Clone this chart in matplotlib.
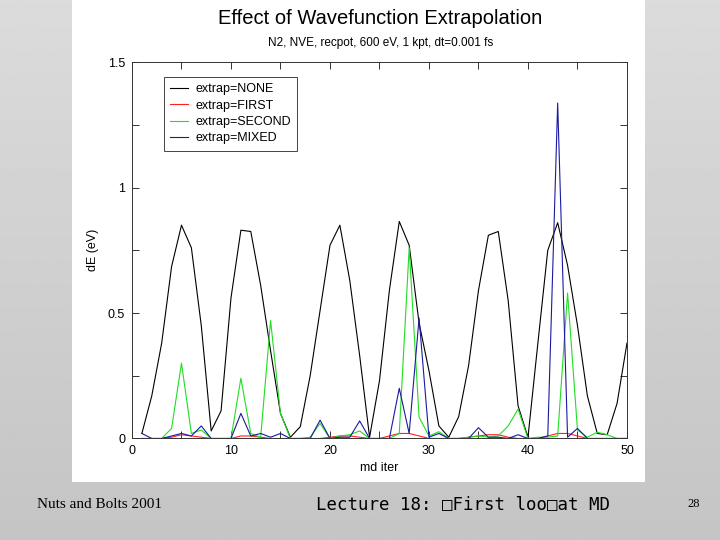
import numpy as np
import matplotlib
matplotlib.use("Agg")
from matplotlib import pyplot as plt
from matplotlib.ticker import MultipleLocator, FormatStrFormatter
from matplotlib.patches import Rectangle

# md iterations 1..50
md_iter = list(range(1, 51))

# dE (eV)
extrap_none = [0.02, 0.17, 0.38, 0.685, 0.85, 0.76, 0.45, 0.03, 0.11, 0.56,
               0.83, 0.825, 0.61, 0.35, 0.10, 0.005, 0.047, 0.25, 0.51, 0.77,
               0.85, 0.63, 0.33, 0.005, 0.23, 0.59, 0.865, 0.77, 0.46, 0.27,
               0.05, 0.005, 0.087, 0.29, 0.59, 0.81, 0.825, 0.55, 0.13, 0.005,
               0.38, 0.75, 0.86, 0.69, 0.45, 0.17, 0.02, 0.015, 0.14, 0.38]
extrap_first = [0.0, 0.0, 0.0, 0.005, 0.015, 0.01, 0.005, 0.0, 0.0, 0.0,
                0.01, 0.01, 0.005, 0.0, 0.0, 0.0, 0.0, 0.0, 0.0, 0.005,
                0.01, 0.01, 0.005, 0.0, 0.0, 0.01, 0.02, 0.02, 0.01, 0.0,
                0.0, 0.0, 0.0, 0.005, 0.01, 0.015, 0.015, 0.005, 0.0, 0.0,
                0.0, 0.01, 0.02, 0.02, 0.01, 0.0, 0.0, 0.0, 0.0, 0.0]
extrap_second = [0.0, 0.0, 0.0, 0.04, 0.30, 0.02, 0.034, 0.0, 0.0, 0.0,
                 0.24, 0.02, 0.005, 0.47, 0.10, 0.0, 0.0, 0.005, 0.06, 0.0,
                 0.01, 0.015, 0.03, 0.0, 0.0, 0.0, 0.02, 0.76, 0.085, 0.01,
                 0.027, 0.0, 0.0, 0.005, 0.01, 0.005, 0.01, 0.05, 0.117, 0.0,
                 0.005, 0.005, 0.01, 0.58, 0.034, 0.005, 0.025, 0.015, 0.0, 0.0]
extrap_mixed = [0.02, 0.0, 0.0, 0.01, 0.02, 0.01, 0.05, 0.0, 0.0, 0.0,
                0.10, 0.01, 0.02, 0.005, 0.02, 0.0, 0.0, 0.0, 0.073, 0.0,
                0.005, 0.005, 0.07, 0.0, 0.0, 0.0, 0.20, 0.02, 0.48, 0.005,
                0.02, 0.0, 0.0, 0.0, 0.043, 0.005, 0.005, 0.0, 0.015, 0.0,
                0.0, 0.01, 1.337, 0.005, 0.04, 0.0, 0.0, 0.0, 0.0, 0.0]

series = [("extrap=NONE", extrap_none, "black"),
          ("extrap=FIRST", extrap_first, "#ff2020"),
          ("extrap=SECOND", extrap_second, "#22dd22"),
          ("extrap=MIXED", extrap_mixed, "#1a1aa0")]

fig = plt.figure(figsize=(7.2, 5.4), dpi=100)

# slide background, grey gradient
bg = fig.add_axes([0, 0, 1, 1], zorder=-10)
grad = np.linspace(0.86, 0.77, 256).reshape(-1, 1)
bg.imshow(grad, cmap="gray", vmin=0, vmax=1, aspect="auto", extent=[0, 1, 0, 1])
bg.set_xlim(0, 1)
bg.set_ylim(0, 1)
bg.axis("off")
# white panel holding the plot
bg.add_patch(Rectangle((0.1, 0.107), 0.796, 0.893, facecolor="white",
                       edgecolor="none"))

ax = fig.add_axes([0.1833, 0.188, 0.6875, 0.697])
for label, vals, col in series:
    ax.plot(md_iter, vals, color=col, lw=0.8, label=label)

ax.set_xlim(0, 50)
ax.set_ylim(0, 1.5)
ax.xaxis.set_major_locator(MultipleLocator(10))
ax.xaxis.set_minor_locator(MultipleLocator(5))
ax.yaxis.set_major_locator(MultipleLocator(0.5))
ax.yaxis.set_minor_locator(MultipleLocator(0.25))
ax.yaxis.set_major_formatter(FormatStrFormatter("%g"))
ax.tick_params(which="both", direction="in", top=True, right=True, length=5,
               width=0.7, color="#333333", labelsize=9, pad=5)
for s in ax.spines.values():
    s.set_linewidth(0.7)
    s.set_color("#333333")
for t in ax.get_xticklabels() + ax.get_yticklabels():
    t.set_family("Liberation Sans")

ax.set_xlabel("md iter", family="Liberation Sans", fontsize=9, labelpad=3)
ax.set_ylabel("dE (eV)", family="Liberation Sans", fontsize=9, labelpad=6)

leg = ax.legend(loc="upper left", bbox_to_anchor=(0.052, 0.977),
                prop={"family": "Liberation Sans", "size": 9},
                fancybox=False, framealpha=1, edgecolor="#444444",
                handlelength=1.4, handletextpad=0.6, borderpad=0.5,
                labelspacing=0.35)
leg.get_frame().set_linewidth(0.7)

fig.text(0.528, 0.966, "Effect of Wavefunction Extrapolation",
         ha="center", va="center", family="Liberation Sans", fontsize=14.5)
fig.text(0.528, 0.920, "N2, NVE, recpot, 600 eV, 1 kpt, dt=0.001 fs",
         ha="center", va="center", family="Liberation Sans", fontsize=8.5)

# slide footer
fig.text(0.051, 0.065, "Nuts and Bolts 2001", ha="left", va="center",
         family="Liberation Serif", fontsize=11)
fig.text(0.439, 0.067, "Lecture 18: \u25a1First loo\u25a1at MD", ha="left",
         va="center", family=["DejaVu Sans Mono", "DejaVu Sans"], fontsize=12.5)
fig.text(0.955, 0.067, "28", ha="left", va="center",
         family="Liberation Serif", fontsize=9)

fig.savefig("out.png", dpi=100)
